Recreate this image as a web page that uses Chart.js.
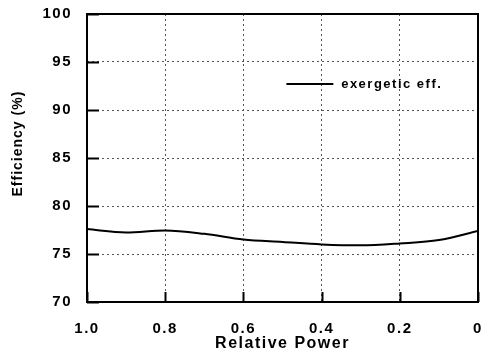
<!DOCTYPE html>
<html>
<head>
<meta charset="utf-8">
<script src="https://cdn.jsdelivr.net/npm/chart.js@4/dist/chart.umd.min.js"></script>
<style>
  html, body { margin: 0; padding: 0; background: #fff; }
  #wrap { width: 482px; height: 362px; }
</style>
</head>
<body>
<div id="wrap"><canvas id="c" width="482" height="362"></canvas></div>
<script>
// Relative power runs from full load (1.0) down to zero
const relativePower = [1.0, 0.9, 0.8, 0.7, 0.6, 0.5, 0.4, 0.3, 0.2, 0.1, 0];
const exergeticEff = [77.6, 77.25, 77.45, 77.1, 76.5, 76.25, 76.0, 75.9, 76.1, 76.45, 77.4];
const xTicks = [1.0, 0.8, 0.6, 0.4, 0.2, 0];
const yTicks = [70, 75, 80, 85, 90, 95, 100];
const seriesLabel = 'exergetic eff.';
const xTitle = 'Relative Power';
const yTitle = 'Efficiency (%)';

const FONT = '"Liberation Sans", Arial, Helvetica, sans-serif';
const SPACING = '1.5px';

// Frame, inward tick marks, y title and in-plot legend
const decorations = {
  id: 'decorations',
  beforeUpdate(chart) { chart.ctx.letterSpacing = SPACING; },
  beforeDraw(chart) {
    const ctx = chart.ctx;
    ctx.letterSpacing = SPACING;
    ctx.save();
    ctx.fillStyle = '#fff';
    ctx.fillRect(0, 0, chart.width, chart.height);
    ctx.restore();
  },
  afterDraw(chart) {
    const { ctx, chartArea: a, scales: { x, y } } = chart;
    const w = a.right - a.left, h = a.bottom - a.top;
    ctx.save();
    ctx.setLineDash([]);
    ctx.strokeStyle = '#000';
    ctx.lineWidth = 2;
    ctx.strokeRect(a.left, a.top, w, h);

    // tick marks pointing into the plot
    ctx.beginPath();
    y.ticks.forEach(t => {
      const py = Math.round(y.getPixelForValue(t.value)) + 0.5;
      ctx.moveTo(a.left, py); ctx.lineTo(a.left + 12, py);
    });
    x.ticks.forEach(t => {
      const px = Math.round(x.getPixelForValue(t.value)) + 0.5;
      ctx.moveTo(px, a.bottom); ctx.lineTo(px, a.bottom - 10);
    });
    ctx.stroke();

    // y axis title
    ctx.fillStyle = '#000';
    ctx.font = 'bold 14px ' + FONT;
    ctx.textAlign = 'center';
    ctx.textBaseline = 'middle';
    ctx.letterSpacing = '1px';
    ctx.save();
    ctx.translate(18, a.top + h * 0.45);
    ctx.rotate(-Math.PI / 2);
    ctx.fillText(yTitle, 0, 0);
    ctx.restore();

    // legend entry
    const ds = chart.data.datasets[0];
    const ly = a.top + h * 0.243;
    ctx.strokeStyle = ds.borderColor;
    ctx.lineWidth = ds.borderWidth;
    ctx.beginPath();
    ctx.moveTo(a.left + w * 0.51, ly);
    ctx.lineTo(a.left + w * 0.63, ly);
    ctx.stroke();
    ctx.letterSpacing = '1.5px';
    ctx.font = 'bold 13px ' + FONT;
    ctx.textAlign = 'left';
    ctx.fillText(ds.label, a.left + w * 0.65, ly);
    ctx.restore();
    ctx.letterSpacing = SPACING;
  }
};

const points = relativePower.map((p, i) => ({ x: p, y: exergeticEff[i] }));

new Chart(document.getElementById('c'), {
  type: 'line',
  data: {
    datasets: [{
      label: seriesLabel,
      data: points,
      borderColor: '#000',
      borderWidth: 2,
      pointRadius: 0,
      fill: false,
      tension: 0.4,
      cubicInterpolationMode: 'monotone'
    }]
  },
  options: {
    responsive: false,
    animation: false,
    layout: { padding: { left: 0, top: 14, right: 4, bottom: 0 } },
    plugins: { legend: { display: false }, tooltip: { enabled: false } },
    scales: {
      x: {
        type: 'linear',
        min: 0, max: 1,
        reverse: true,
        afterBuildTicks: s => { s.ticks = xTicks.map(v => ({ value: v })); },
        afterFit: s => { s.height = 60; s.paddingLeft = 0; s.paddingRight = 0; },
        ticks: {
          color: '#000',
          padding: 18,
          maxRotation: 0,
          autoSkip: false,
          font: { family: FONT, size: 15, weight: 'bold' },
          callback: v => (v === 0 ? '0' : v.toFixed(1))
        },
        grid: { color: '#555', lineWidth: 1, drawTicks: false },
        border: { display: false, dash: [2, 3] },
        title: {
          display: true,
          text: xTitle,
          color: '#000',
          font: { family: FONT, size: 16, weight: 'bold' },
          padding: { top: 0, bottom: 9 }
        }
      },
      y: {
        min: 70, max: 100,
        afterBuildTicks: s => { s.ticks = yTicks.map(v => ({ value: v })); },
        afterFit: s => { s.width = 87; s.paddingTop = 0; s.paddingBottom = 0; },
        ticks: {
          color: '#000',
          padding: 15,
          autoSkip: false,
          font: { family: FONT, size: 15, weight: 'bold' }
        },
        grid: { color: '#555', lineWidth: 1, drawTicks: false },
        border: { display: false, dash: [2, 3] }
      }
    }
  },
  plugins: [decorations]
});
</script>
</body>
</html>
